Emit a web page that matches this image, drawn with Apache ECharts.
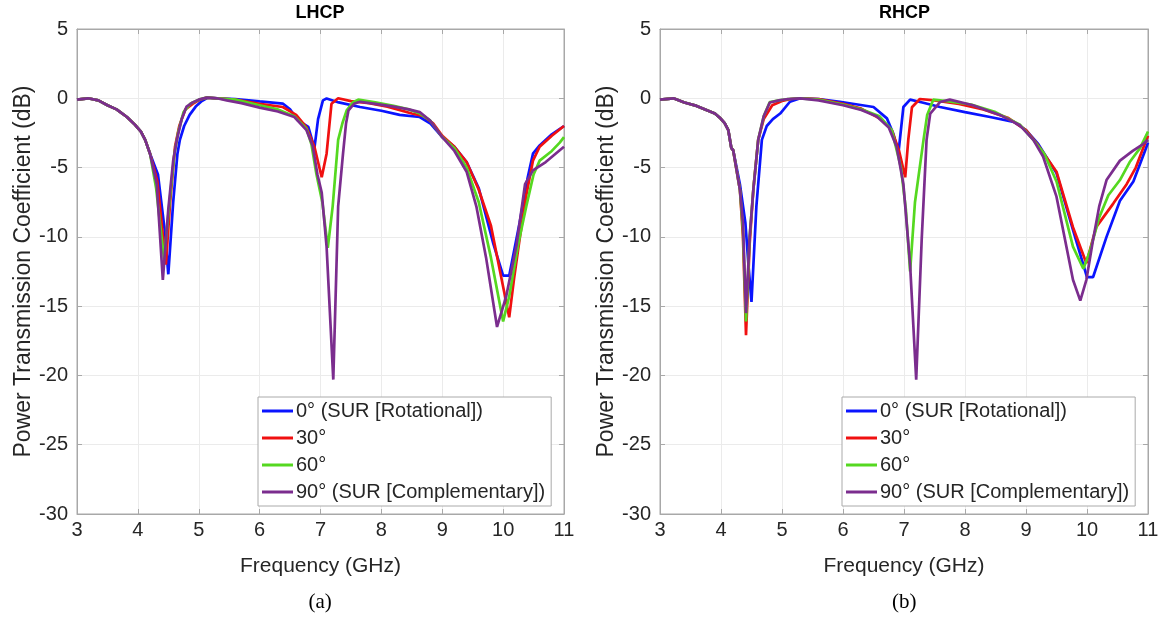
<!DOCTYPE html>
<html>
<head>
<meta charset="utf-8">
<script src="https://cdn.jsdelivr.net/npm/echarts@6/dist/echarts.min.js"></script>
<style>
html,body{margin:0;padding:0;background:#fff;}
#chart{width:1165px;height:627px;}
</style>
</head>
<body>
<div id="chart"></div>
<script>
// ---- data (frequency GHz, power transmission coefficient dB) ----
const seriesNames = ['0° (SUR [Rotational])', '30°', '60°', '90° (SUR [Complementary])'];
const panelTitles = ['LHCP', 'RHCP'];
const panelLabels = ['(a)', '(b)'];
const xTicks = [3, 4, 5, 6, 7, 8, 9, 10, 11];
const yTicks = [5, 0, -5, -10, -15, -20, -25, -30];

const lhcpStart = [[3,-0.1],[3.18,0],[3.35,-0.15],[3.5,-0.5],[3.65,-0.8],[3.82,-1.35],[3.95,-1.9],[4.05,-2.4],[4.12,-3.0],[4.2,-4.0]];
const rhcpStart = [[3,-0.1],[3.22,0],[3.4,-0.3],[3.6,-0.55],[3.77,-0.87],[3.9,-1.1],[3.98,-1.4],[4.06,-1.8],[4.12,-2.3],[4.17,-3.6],[4.2,-3.75]];

const lhcp0 = [[4.33,-5.5],[4.44,-9.5],[4.5,-12.7],[4.58,-7.5],[4.65,-4.0],[4.69,-3.0],[4.76,-2.0],[4.85,-1.2],[4.95,-0.6],[5.05,-0.2],[5.15,0.05],[5.3,0],[5.6,-0.05],[6.0,-0.22],[6.38,-0.38],[6.5,-0.8],[6.63,-1.6],[6.8,-2.07],[6.9,-3.6],[6.96,-1.5],[7.04,-0.15],[7.1,-0.02],[7.3,-0.3],[7.65,-0.63],[8.0,-0.9],[8.3,-1.2],[8.63,-1.35],[8.8,-1.8],[9.0,-2.8],[9.2,-3.5],[9.4,-4.6],[9.6,-6.5],[9.84,-10.5],[10.0,-12.8],[10.1,-12.8],[10.27,-9.0],[10.4,-5.8],[10.49,-4.0],[10.6,-3.4],[10.8,-2.6],[11,-2.0]];
const lhcp30 = [[4.32,-6.0],[4.46,-12.0],[4.53,-7.5],[4.61,-3.5],[4.68,-2.0],[4.78,-0.8],[4.9,-0.4],[5.02,-0.1],[5.13,0.05],[5.3,0],[5.6,-0.1],[6.0,-0.4],[6.38,-0.63],[6.6,-1.2],[6.77,-2.1],[6.9,-3.5],[7.02,-5.7],[7.1,-4.0],[7.18,-0.4],[7.29,0],[7.5,-0.2],[7.8,-0.35],[8.1,-0.6],[8.5,-1.1],[8.7,-1.3],[8.85,-1.8],[9.0,-2.7],[9.2,-3.5],[9.4,-4.6],[9.6,-6.6],[9.8,-9.2],[9.95,-12.5],[10.1,-15.8],[10.18,-13],[10.27,-10.2],[10.38,-7.0],[10.49,-4.5],[10.6,-3.5],[10.8,-2.7],[11,-2.0]];
const lhcp60 = [[4.3,-6.5],[4.43,-11.6],[4.52,-7.5],[4.6,-4.0],[4.66,-2.5],[4.75,-1.0],[4.86,-0.4],[5.0,-0.1],[5.13,0.05],[5.3,0],[5.6,-0.1],[6.0,-0.5],[6.3,-0.8],[6.57,-1.3],[6.77,-2.2],[6.85,-3.3],[6.93,-5.4],[7.03,-7.5],[7.12,-10.8],[7.2,-7.8],[7.29,-3.0],[7.36,-1.8],[7.43,-0.87],[7.54,-0.26],[7.62,-0.1],[7.9,-0.3],[8.2,-0.55],[8.45,-0.8],[8.63,-1.1],[8.8,-1.6],[9.0,-2.8],[9.2,-3.6],[9.4,-5.0],[9.6,-7.5],[9.8,-11.5],[10.0,-16.1],[10.1,-14.3],[10.25,-10.5],[10.38,-7.8],[10.5,-5.5],[10.6,-4.5],[10.8,-3.8],[10.93,-3.2],[11,-2.8]];
const lhcp90 = [[4.31,-6.2],[4.41,-13.1],[4.5,-8.0],[4.58,-4.5],[4.64,-3.0],[4.72,-1.5],[4.8,-0.6],[4.9,-0.3],[5.0,-0.1],[5.13,0.05],[5.3,0],[5.46,-0.15],[5.7,-0.35],[6.0,-0.67],[6.3,-0.95],[6.57,-1.35],[6.77,-2.3],[6.87,-3.4],[6.95,-5.5],[7.02,-6.8],[7.1,-10.7],[7.21,-20.3],[7.29,-7.8],[7.37,-4.0],[7.42,-1.8],[7.46,-0.87],[7.55,-0.4],[7.65,-0.25],[7.9,-0.4],[8.2,-0.6],[8.45,-0.8],[8.63,-1.0],[8.8,-1.6],[9.0,-2.8],[9.2,-3.8],[9.4,-5.3],[9.56,-7.8],[9.72,-11.5],[9.9,-16.5],[10.05,-14.3],[10.22,-10.6],[10.36,-6.2],[10.49,-5.2],[10.7,-4.6],[10.93,-3.75],[11,-3.5]];

const rhcp0 = [[4.31,-6.2],[4.4,-9.0],[4.45,-12.0],[4.5,-14.7],[4.58,-7.8],[4.67,-3.0],[4.75,-2.0],[4.85,-1.5],[4.97,-1.1],[5.13,-0.25],[5.3,0],[5.6,-0.05],[5.95,-0.25],[6.5,-0.63],[6.72,-1.45],[6.82,-2.5],[6.91,-3.9],[6.99,-0.63],[7.1,-0.1],[7.3,-0.3],[7.59,-0.63],[8.0,-1.0],[8.41,-1.35],[8.8,-1.7],[9.0,-2.3],[9.2,-3.3],[9.5,-5.4],[9.77,-9.5],[10.0,-12.9],[10.1,-12.9],[10.32,-10.0],[10.54,-7.4],[10.76,-6.0],[10.95,-3.8],[11,-3.2]];
const rhcp30 = [[4.31,-6.6],[4.36,-10.0],[4.41,-17.1],[4.47,-10.5],[4.53,-6.6],[4.61,-3.0],[4.7,-1.5],[4.84,-0.5],[5.0,-0.2],[5.15,-0.05],[5.3,0],[5.6,-0.05],[6.0,-0.4],[6.3,-0.75],[6.62,-1.5],[6.8,-2.3],[6.92,-3.8],[7.02,-5.7],[7.07,-3.0],[7.13,-0.65],[7.26,-0.05],[7.5,-0.15],[7.9,-0.4],[8.3,-0.8],[8.7,-1.4],[9.0,-2.3],[9.2,-3.4],[9.5,-5.3],[9.77,-9.3],[9.99,-11.9],[10.15,-9.3],[10.43,-7.6],[10.65,-6.2],[10.8,-5.0],[10.92,-3.6],[11,-2.7]];
const rhcp60 = [[4.31,-6.6],[4.36,-9.5],[4.41,-16.1],[4.47,-10.0],[4.53,-6.6],[4.61,-3.0],[4.7,-1.3],[4.8,-0.27],[4.95,-0.15],[5.1,-0.05],[5.3,0],[5.6,-0.1],[6.0,-0.45],[6.3,-0.8],[6.6,-1.3],[6.8,-2.3],[6.95,-5.0],[7.03,-8.0],[7.1,-12.5],[7.18,-7.5],[7.32,-3.0],[7.38,-1.2],[7.48,-0.1],[7.7,-0.2],[8.1,-0.45],[8.5,-1.0],[8.9,-1.9],[9.12,-3.0],[9.3,-4.0],[9.5,-6.0],[9.77,-10.7],[9.94,-12.3],[10.05,-11.0],[10.2,-8.6],[10.35,-7.0],[10.54,-5.9],[10.7,-4.6],[10.87,-3.6],[11,-2.4]];
const rhcp90 = [[4.31,-6.6],[4.36,-9.0],[4.41,-15.5],[4.47,-10.0],[4.53,-6.6],[4.61,-3.0],[4.7,-1.3],[4.8,-0.3],[4.95,-0.15],[5.1,-0.05],[5.3,0],[5.6,-0.15],[6.0,-0.5],[6.3,-0.85],[6.55,-1.3],[6.75,-2.1],[6.88,-3.5],[6.99,-6.2],[7.1,-12.0],[7.2,-20.3],[7.29,-10.2],[7.37,-3.0],[7.43,-1.1],[7.59,-0.27],[7.75,-0.1],[8.13,-0.5],[8.57,-1.2],[8.9,-1.95],[9.12,-3.0],[9.28,-4.2],[9.5,-7.1],[9.77,-13.1],[9.89,-14.6],[9.99,-13.1],[10.1,-10.2],[10.2,-7.8],[10.32,-5.9],[10.54,-4.5],[10.75,-3.8],[10.92,-3.3],[11,-3.0]];

const colors = ['#0a14ff', '#f01010', '#55d820', '#7b2d8e'];

// ---- chart ----
const grids = [
  {left: 77, top: 29, width: 487, height: 485},
  {left: 660, top: 29, width: 488, height: 485}
];
const panelData = [
  [lhcpStart.concat(lhcp0), lhcpStart.concat(lhcp30), lhcpStart.concat(lhcp60), lhcpStart.concat(lhcp90)],
  [rhcpStart.concat(rhcp0), rhcpStart.concat(rhcp30), rhcpStart.concat(rhcp60), rhcpStart.concat(rhcp90)]
];
const axisColor = '#a8a8a8';
const labelColor = '#262626';
const font = 'Liberation Sans, Arial, sans-serif';

const xAxes = [], yAxes = [];
grids.forEach((g, i) => {
  xAxes.push({
    gridIndex: i, type: 'value', min: xTicks[0], max: xTicks[xTicks.length-1], interval: 1,
    name: 'Frequency (GHz)', nameLocation: 'middle', nameGap: 42,
    nameTextStyle: {fontFamily: font, fontSize: 21, color: labelColor},
    axisLine: {show: true, onZero: false, lineStyle: {color: axisColor}},
    axisTick: {show: true, inside: true, length: 5, lineStyle: {color: axisColor}},
    axisLabel: {fontFamily: font, fontSize: 20, color: labelColor, margin: 6},
    splitLine: {show: true, lineStyle: {color: '#ebebeb', width: 1}}
  });
  xAxes.push({
    gridIndex: i, type: 'value', position: 'top', min: xTicks[0], max: xTicks[xTicks.length-1], interval: 1,
    axisLine: {show: true, onZero: false, lineStyle: {color: axisColor}},
    axisTick: {show: true, inside: true, length: 5, lineStyle: {color: axisColor}},
    axisLabel: {show: false}, splitLine: {show: false}
  });
  yAxes.push({
    gridIndex: i, type: 'value', min: yTicks[yTicks.length-1], max: yTicks[0], interval: 5,
    name: 'Power Transmission Coefficient (dB)', nameLocation: 'middle', nameGap: 42,
    nameTextStyle: {fontFamily: font, fontSize: 23, color: labelColor},
    axisLine: {show: true, lineStyle: {color: axisColor}},
    axisTick: {show: true, inside: true, length: 5, lineStyle: {color: axisColor}},
    axisLabel: {fontFamily: font, fontSize: 20, color: labelColor, margin: 9},
    splitLine: {show: true, lineStyle: {color: '#ebebeb', width: 1}}
  });
  yAxes.push({
    gridIndex: i, type: 'value', position: 'right', min: yTicks[yTicks.length-1], max: yTicks[0], interval: 5,
    axisLine: {show: true, lineStyle: {color: axisColor}},
    axisTick: {show: true, inside: true, length: 5, lineStyle: {color: axisColor}},
    axisLabel: {show: false}, splitLine: {show: false}
  });
});

const option = {
  animation: false,
  backgroundColor: '#fff',
  grid: grids.map(g => Object.assign({show: true, borderColor: axisColor, borderWidth: 1, backgroundColor: '#fff'}, g)),
  xAxis: xAxes,
  yAxis: yAxes,
  legend: grids.map((g, i) => ({
    orient: 'vertical', left: i === 0 ? 258 : 842, top: 397,
    data: seriesNames, icon: 'rect', itemWidth: 31, itemHeight: 3, itemGap: 7,
    padding: [4, 6, 4, 4], borderColor: '#aaaaaa', borderWidth: 1, backgroundColor: '#fff',
    textStyle: {fontFamily: font, fontSize: 20, color: labelColor, padding: [0, 0, 0, -2]},
    selectedMode: false
  })),
  series: [],
  graphic: []
};

panelData.forEach((set, p) => {
  set.forEach((d, k) => {
    option.series.push({
      name: seriesNames[k], type: 'line', xAxisIndex: 2 * p, yAxisIndex: 2 * p,
      data: d, showSymbol: false, symbol: 'none', smooth: false,
      lineStyle: {color: colors[k], width: 2.7}, itemStyle: {color: colors[k]},
      z: 2 + k
    });
  });
  const cx = grids[p].left + grids[p].width / 2;
  option.graphic.push({type: 'text', left: cx - 25, top: 4, style: {text: panelTitles[p], font: 'bold 18px ' + font, fill: '#000'}});
  option.graphic.push({type: 'text', left: cx - 12, top: 592, style: {text: panelLabels[p], font: '21px "Liberation Serif", "Times New Roman", serif', fill: '#000'}});
});

const chart = echarts.init(document.getElementById('chart'), null, {renderer: 'canvas'});
chart.setOption(option);
</script>
</body>
</html>
